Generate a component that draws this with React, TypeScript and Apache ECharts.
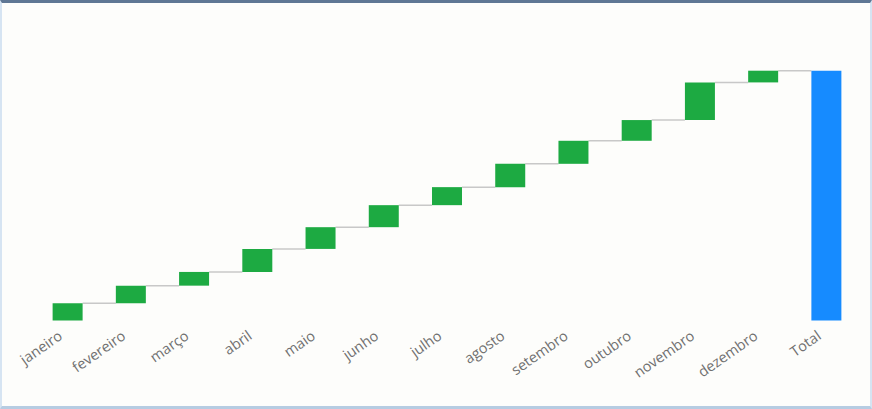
import React, { useEffect, useRef } from "react";
import * as echarts from "echarts";

const categories = [
  "janeiro", "fevereiro", "março", "abril", "maio", "junho",
  "julho", "agosto", "setembro", "outubro", "novembro", "dezembro", "Total",
];
const monthlyValues = [172, 176, 137, 230, 217, 220, 180, 233, 230, 207, 376, 117];

export default function App() {
  const ref = useRef<HTMLDivElement>(null);
  useEffect(() => {
    if (!ref.current) return;
    const chart = echarts.init(ref.current, null, { renderer: "svg" });
    const base: any[] = [];
    const inc: any[] = [];
    const tops: number[] = [];
    let cum = 0;
    monthlyValues.forEach((v) => {
      base.push(cum);
      inc.push(v);
      cum += v;
      tops.push(cum);
    });
    const total = cum;
    base.push(0);
    inc.push("-");
    const totalData = monthlyValues.map(() => "-") as any[];
    totalData.push(total);
    const connectors = tops.map((t, i) => [i, t]);

    chart.setOption({
      animation: false,
      grid: { left: 36, right: 14, top: 70.7, bottom: 88.5, containLabel: false },
      xAxis: {
        type: "category",
        data: categories,
        axisLine: { show: false },
        axisTick: { show: false },
        axisLabel: {
          rotate: 35,
          color: "#707070",
          fontSize: 14.5,
          fontFamily: "Open Sans",
          margin: 8,
          padding: [0, 9, 0, 0],
          interval: 0,
        },
      },
      yAxis: {
        type: "value",
        min: 0,
        max: total,
        show: false,
        splitLine: { show: false },
      },
      series: [
        {
          type: "bar",
          stack: "w",
          data: base,
          barWidth: 30,
          itemStyle: { color: "transparent" },
          silent: true,
        },
        {
          type: "bar",
          stack: "w",
          data: inc,
          barWidth: 30,
          itemStyle: { color: "#1daa42" },
        },
        {
          type: "bar",
          stack: "w",
          data: totalData,
          barWidth: 30,
          itemStyle: { color: "#168bff" },
        },
        {
          type: "custom",
          data: connectors,
          z: 1,
          renderItem: (params: any, api: any) => {
            const i = api.value(0);
            const v = api.value(1);
            const p1 = api.coord([i, v]);
            const p2 = api.coord([i + 1, v]);
            return {
              type: "line",
              shape: { x1: p1[0] + 15, y1: p1[1], x2: p2[0] - 15, y2: p2[1] },
              style: { stroke: "#c8c8c8", lineWidth: 1.5 },
            };
          },
        },
      ],
    });
    return () => chart.dispose();
  }, []);

  return (
    <div
      style={{
        position: "absolute",
        left: 0,
        top: 0,
        width: 872,
        height: 409,
        boxSizing: "border-box",
        background: "#fdfdfb",
        borderTop: "3px solid #5f7794",
        borderLeft: "2px solid #d6e4f2",
        borderRight: "2px solid #d6e4f2",
        borderBottom: "3px solid #b6cce2",
      }}
    >
      <div
        ref={ref}
        style={{ position: "absolute", left: -2, top: -3, width: 872, height: 409 }}
      />
    </div>
  );
}
